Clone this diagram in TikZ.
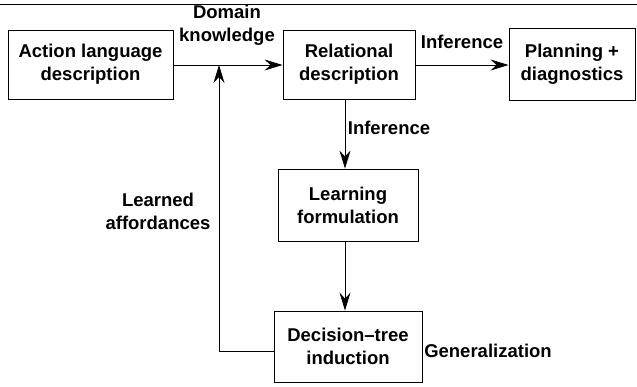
\documentclass[tikz,border=0pt]{standalone}
\usepackage{fontspec}
\setmainfont{Liberation Sans}
\usetikzlibrary{arrows.meta}
\begin{document}
\begin{tikzpicture}[x=1pt,y=-1pt,
  txt/.style={font=\fontsize{18.5}{23}\selectfont\bfseries, align=center, inner sep=0pt},
  blk/.style={txt, draw, line width=0.9pt, anchor=center},
  arr/.style={-{Stealth[length=18pt,width=11pt,inset=6pt]}, line width=0.8pt},
  ln/.style={line width=0.8pt}]
\useasboundingbox (0,0) rectangle (637,386);
\coordinate (tl) at (0,4);
\coordinate (tr) at (637,4);
\draw[line width=1pt] (tl) -- (tr);
\node[blk, minimum width=165pt, minimum height=69pt] (act) at (90.5,64.5) {Action language\\description};
\node[blk, minimum width=132pt, minimum height=69pt] (rel) at (349,64.5) {Relational\\description};
\node[blk, minimum width=126pt, minimum height=72pt] (plan) at (572,64) {Planning +\\diagnostics};
\node[blk, minimum width=140pt, minimum height=72pt] (learn) at (348,205) {Learning\\formulation};
\node[blk, minimum width=148pt, minimum height=71pt] (dec) at (348,346.5) {Decision--tree\\induction};
\coordinate (j) at (219,65);
\coordinate (c) at (219,351);
\draw[arr] (act.east |- 0,65) -- (rel.west |- 0,65);
\draw[arr] (rel.east |- 0,65) -- (plan.west |- 0,65);
\draw[arr] ([xshift=-4pt]rel.south) -- ([xshift=-3pt]learn.north);
\draw[arr] ([xshift=-3pt]learn.south) -- ([xshift=-3pt]dec.north);
\draw[arr] (dec.west |- c) -- (c) -- (j);
\node[txt] (dk) at (227,25) {Domain\\knowledge};
\node[txt] (inf1) at (462,42) {Inference};
\node[txt] (inf2) at (389,128) {Inference};
\node[txt] (la) at (158,211) {Learned\\affordances};
\node[txt] (gen) at (488,351) {Generalization};
\end{tikzpicture}
\end{document}
